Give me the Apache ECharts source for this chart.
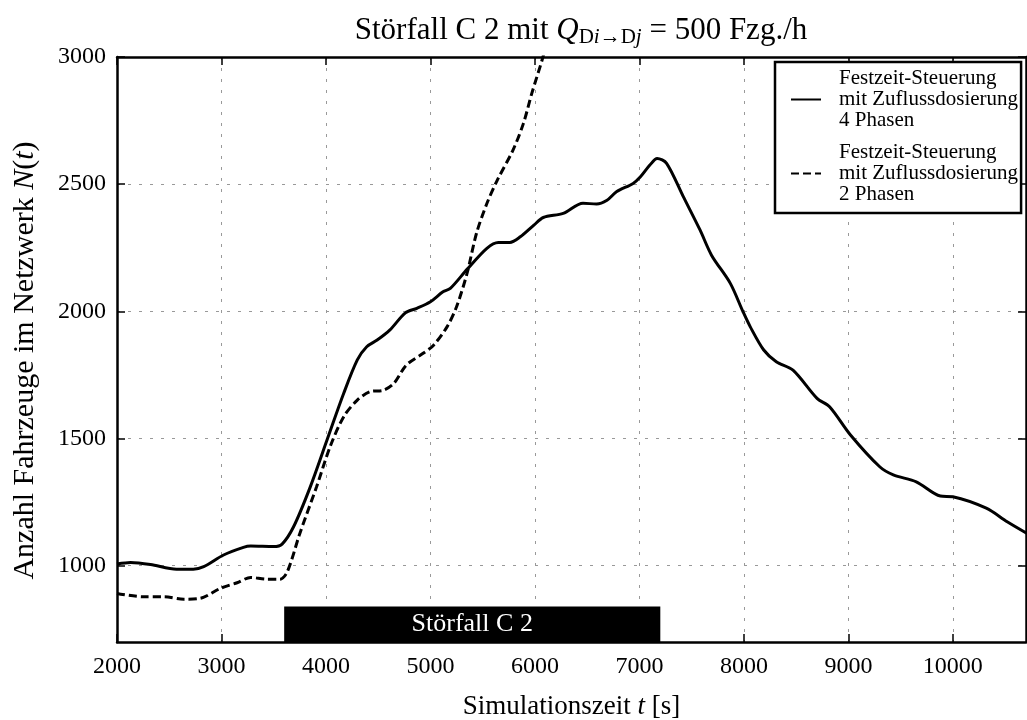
<!DOCTYPE html>
<html><head><meta charset="utf-8">
<script src="https://cdn.jsdelivr.net/npm/echarts@6/dist/echarts.min.js"></script>
<style>html,body{margin:0;padding:0;background:#fff}#c{width:1027px;height:720px}</style>
</head><body><div id="c"></div>
<script>
const times4 = [2000,2130,2320,2570,2730,2830,3020,3210,3280,3500,3580,3690,3850,4010,4170,4300,4390,4490,4610,4760,4870,5000,5120,5190,5350,5540,5650,5760,5860,5990,6080,6270,6460,6590,6690,6780,6940,7010,7100,7170,7260,7420,7580,7690,7870,7990,8060,8190,8310,8470,8700,8820,9020,9300,9430,9650,9880,10000,10320,10520,10710];
const vals4 = [1007,1013,1005,986,986,996,1042,1072,1077,1075,1085,1153,1310,1494,1678,1809,1861,1887,1926,1994,2012,2038,2077,2090,2165,2248,2271,2271,2293,2339,2369,2385,2425,2422,2437,2470,2503,2529,2575,2601,2582,2451,2320,2221,2110,2000,1940,1848,1802,1769,1658,1625,1514,1389,1357,1330,1274,1271,1226,1173,1127];
const times2 = [2000,2250,2450,2640,2800,2990,3150,3280,3430,3560,3630,3750,3910,4040,4170,4300,4420,4550,4650,4770,4930,5030,5160,5250,5350,5440,5540,5640,5790,5890,5970,6070,6100];
const vals2 = [891,878,878,868,872,911,933,954,947,947,976,1127,1310,1468,1586,1651,1684,1690,1717,1789,1835,1867,1940,2018,2149,2306,2424,2516,2634,2739,2857,2990,3040];
const xTicks = [2000,3000,4000,5000,6000,7000,8000,9000,10000];
const yTicks = [1000,1500,2000,2500,3000];
const xRange = [2000, 10700];
const yRange = [700, 3000];
const incident = {label: 'Störfall C 2', start: 3600, end: 7200, top: 840};
const name4 = 'Festzeit-Steuerung\nmit Zuflussdosierung\n4 Phasen';
const name2 = 'Festzeit-Steuerung\nmit Zuflussdosierung\n2 Phasen';

const FONT = 'Liberation Serif';
const zip = (a, b) => a.map((t, i) => [t, b[i]]);
const chart = echarts.init(document.getElementById('c'));
const axisLine = {show: true, lineStyle: {color: '#000', width: 2.5}};
const tick = (vals) => ({show: true, inside: true, length: 8, lineStyle: {color: '#000', width: 1.5}, customValues: vals});
const grid = {show: true, lineStyle: {color: '#999', width: 1, type: [3, 8]}};
const plain = v => String(v);
chart.setOption({
  animation: false,
  backgroundColor: '#fff',
  textStyle: {fontFamily: FONT},
  title: {
    text: '{a|Störfall C 2 mit }{q|Q}{s|D}{si|i}{s|→D}{si|j}{a| = 500 Fzg./h}',
    left: 576, top: 8, textAlign: 'center',
    textStyle: {
      fontWeight: 'normal',
      rich: {
        a: {fontFamily: FONT, fontSize: 31, color: '#000'},
        q: {fontFamily: FONT, fontSize: 31, fontStyle: 'italic', color: '#000'},
        s: {fontFamily: FONT, fontSize: 21, color: '#000', padding: [14, 0, 0, 0]},
        si: {fontFamily: FONT, fontSize: 21, fontStyle: 'italic', color: '#000', padding: [14, 0, 0, 0]}
      }
    }
  },
  grid: {left: 117, right: 1, top: 57, bottom: 78, containLabel: false, outerBoundsMode: 'none'},
  legend: {
    left: 775, top: 62, orient: 'vertical',
    backgroundColor: '#fff', borderColor: '#000', borderWidth: 2.5, borderRadius: 0,
    padding: [6, 3, 8, 15], itemGap: 11, itemWidth: 30, itemHeight: 14,
    itemStyle: {opacity: 0},
    textStyle: {fontFamily: FONT, fontSize: 21, lineHeight: 21, color: '#000', padding: [0, 0, 0, 13]},
    data: [name4, name2]
  },
  xAxis: [{
    type: 'value', min: xRange[0], max: xRange[1], position: 'bottom',
    axisLine, axisTick: tick(xTicks), splitLine: grid,
    axisLabel: {customValues: xTicks, formatter: plain, fontFamily: FONT, fontSize: 24, color: '#000', margin: 13},
    name: '{n|Simulationszeit }{i|t}{n| [s]}', nameLocation: 'middle', nameGap: 51,
    nameTextStyle: {rich: {n: {fontFamily: FONT, fontSize: 27, color: '#000'}, i: {fontFamily: FONT, fontSize: 27, fontStyle: 'italic', color: '#000'}}}
  }, {
    type: 'value', min: xRange[0], max: xRange[1], position: 'top',
    axisLine, axisTick: tick(xTicks), splitLine: {show: false}, axisLabel: {show: false}
  }],
  yAxis: [{
    type: 'value', min: yRange[0], max: yRange[1], position: 'left',
    axisLine, axisTick: tick(yTicks), splitLine: grid,
    axisLabel: {customValues: yTicks, formatter: plain, fontFamily: FONT, fontSize: 24, color: '#000', margin: 11},
    name: '{n|Anzahl Fahrzeuge im Netzwerk }{i|N}{n|(}{i|t}{n|)}', nameLocation: 'middle', nameGap: 77,
    nameTextStyle: {padding: [0, 22, 0, 0], rich: {n: {fontFamily: FONT, fontSize: 30, color: '#000'}, i: {fontFamily: FONT, fontSize: 30, fontStyle: 'italic', color: '#000'}}}
  }, {
    type: 'value', min: yRange[0], max: yRange[1], position: 'right',
    axisLine, axisTick: tick(yTicks), splitLine: {show: false}, axisLabel: {show: false}
  }],
  series: [{
    name: name4, type: 'line', xAxisIndex: 0, yAxisIndex: 0,
    data: zip(times4, vals4), showSymbol: false, symbol: 'none', smooth: 0.3, clip: true,
    lineStyle: {color: '#000', width: 3, type: 'solid'}, itemStyle: {color: '#000'},
    markArea: {
      silent: true,
      itemStyle: {color: '#000', opacity: 1},
      label: {show: true, position: 'inside', color: '#fff', fontFamily: FONT, fontSize: 26},
      data: [[{name: incident.label, coord: [incident.start, yRange[0]]}, {coord: [incident.end, incident.top]}]]
    }
  }, {
    name: name2, type: 'line', xAxisIndex: 0, yAxisIndex: 0,
    data: zip(times2, vals2), showSymbol: false, symbol: 'none', smooth: 0.3, clip: true,
    lineStyle: {color: '#000', width: 3, type: [8, 4]}, itemStyle: {color: '#000'}
  }]
});
</script></body></html>
